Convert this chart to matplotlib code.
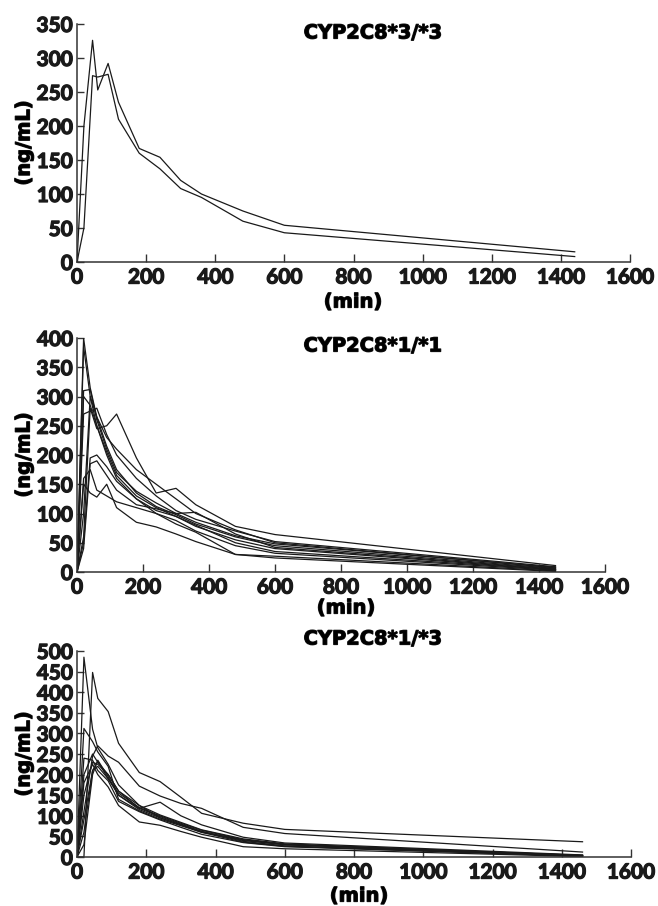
import matplotlib
matplotlib.use('Agg')
import matplotlib.pyplot as plt
import matplotlib.patheffects as pe

# sampling times (min)
t_33 = [0, 20, 45, 60, 90, 120, 180, 240, 300, 360, 480, 600, 1440]
t_11 = [0, 20, 40, 60, 90, 120, 180, 240, 300, 360, 480, 600, 1450]
t_13 = [0, 20, 45, 60, 90, 120, 180, 240, 300, 360, 480, 600, 1460]

# CYP2C8*3/*3 concentrations (ng/mL)
conc_33 = [
    [0, 200, 326, 253, 292, 235, 167, 154, 120, 100, 75, 54, 15],
    [0, 50, 274, 272, 276, 210, 160, 137, 108, 95, 60, 43, 8],
]

# CYP2C8*1/*1
conc_11 = [
    [0, 400, 315, 265, 215, 175, 135, 112, 98, 82, 60, 45, 6],
    [0, 385, 300, 250, 205, 165, 130, 110, 95, 78, 55, 40, 4],
    [0, 310, 312, 260, 210, 170, 138, 118, 100, 85, 62, 48, 8],
    [0, 270, 275, 280, 235, 200, 160, 130, 105, 90, 70, 52, 9],
    [0, 60, 280, 245, 250, 270, 195, 135, 143, 115, 78, 64, 11],
    [0, 100, 300, 265, 230, 210, 175, 150, 125, 100, 72, 50, 7],
    [0, 50, 195, 200, 180, 155, 125, 105, 95, 80, 50, 35, 4],
    [0, 40, 185, 190, 165, 140, 115, 108, 100, 102, 65, 42, 5],
    [0, 150, 135, 128, 150, 110, 85, 77, 65, 52, 30, 27, 2],
    [0, 160, 175, 140, 130, 120, 110, 100, 88, 70, 45, 32, 3],
    [0, 300, 285, 250, 200, 160, 125, 100, 82, 68, 30, 24, 1],
]

# CYP2C8*1/*3
conc_13 = [
    [0, 485, 310, 265, 225, 175, 125, 95, 78, 62, 40, 30, 4],
    [0, 0, 448, 385, 353, 276, 205, 183, 145, 106, 82, 67, 37],
    [0, 312, 280, 255, 220, 140, 112, 92, 76, 60, 42, 30, 3],
    [0, 110, 245, 270, 245, 230, 172, 148, 130, 118, 72, 57, 12],
    [0, 60, 210, 232, 190, 150, 118, 133, 100, 78, 48, 34, 5],
    [0, 240, 235, 210, 185, 135, 110, 90, 72, 55, 35, 25, 2],
    [0, 150, 230, 225, 200, 160, 118, 98, 80, 62, 38, 27, 3],
    [0, 30, 200, 235, 195, 150, 115, 95, 78, 60, 36, 26, 2],
    [0, 180, 225, 200, 170, 125, 85, 77, 62, 48, 25, 20, 1],
    [0, 90, 210, 220, 190, 155, 120, 100, 82, 65, 42, 30, 4],
    [0, 200, 250, 230, 200, 160, 125, 102, 84, 66, 44, 32, 3],
]

titles = ['CYP2C8*3/*3', 'CYP2C8*1/*1', 'CYP2C8*1/*3']
ymax = [350, 400, 500]
xticks = list(range(0, 1601, 200))

W, H = 658, 906
fig = plt.figure(figsize=(W / 100, H / 100), dpi=100)

heavy = [pe.withStroke(linewidth=0.9, foreground='#1a1a1a')]
tick_font = dict(family='Lato', weight='bold', size=15)
lab_font = dict(family='DejaVu Sans', weight='bold', size=14)

# pixel boxes: left, right, top, bottom
boxes = [(77, 630, 24, 262), (77, 605, 338, 572), (77, 631, 651, 857)]
title_y = [33, 346, 639]
min_pos = [(353, 302), (346, 608), (359, 896)]

panels = [(t_33, conc_33), (t_11, conc_11), (t_13, conc_13)]

for i, (times, series) in enumerate(panels):
    l, r, t, b = boxes[i]
    ax = fig.add_axes([l / W, 1 - b / H, (r - l) / W, (b - t) / H])
    for c in series:
        ax.plot(times, c, color='#1a1a1a', lw=0.9)
    ax.set_xlim(0, 1600)
    ax.set_ylim(0, ymax[i])
    ax.set_xticks(xticks)
    ax.set_yticks(range(0, ymax[i] + 1, 50))
    ax.set_xticklabels([str(v) for v in xticks], **tick_font)
    ax.set_yticklabels([str(v) for v in range(0, ymax[i] + 1, 50)], **tick_font)
    for lab in ax.get_xticklabels() + ax.get_yticklabels():
        lab.set_path_effects(heavy)
    for s in ['top', 'right']:
        ax.spines[s].set_visible(False)
    for s in ['left', 'bottom']:
        ax.spines[s].set_linewidth(1.1)
        ax.spines[s].set_color('#333333')
    ax.tick_params(axis='x', direction='in', length=6, width=1, pad=4, colors='#333333', labelcolor='#1a1a1a')
    ax.tick_params(axis='y', direction='in', length=5, width=1, pad=3, colors='#333333', labelcolor='#1a1a1a')

    fig.text(373 / W, 1 - title_y[i] / H, titles[i], ha='center', va='center',
             path_effects=heavy, **lab_font)
    fig.text(24 / W, 1 - ((t + b) / 2) / H, '(ng/mL)', rotation=90, ha='center', va='center',
             path_effects=heavy, **lab_font)
    mx, my = min_pos[i]
    fig.text(mx / W, 1 - my / H, '(min)', ha='center', va='center', path_effects=heavy, **lab_font)

fig.savefig('out.png', dpi=100)
